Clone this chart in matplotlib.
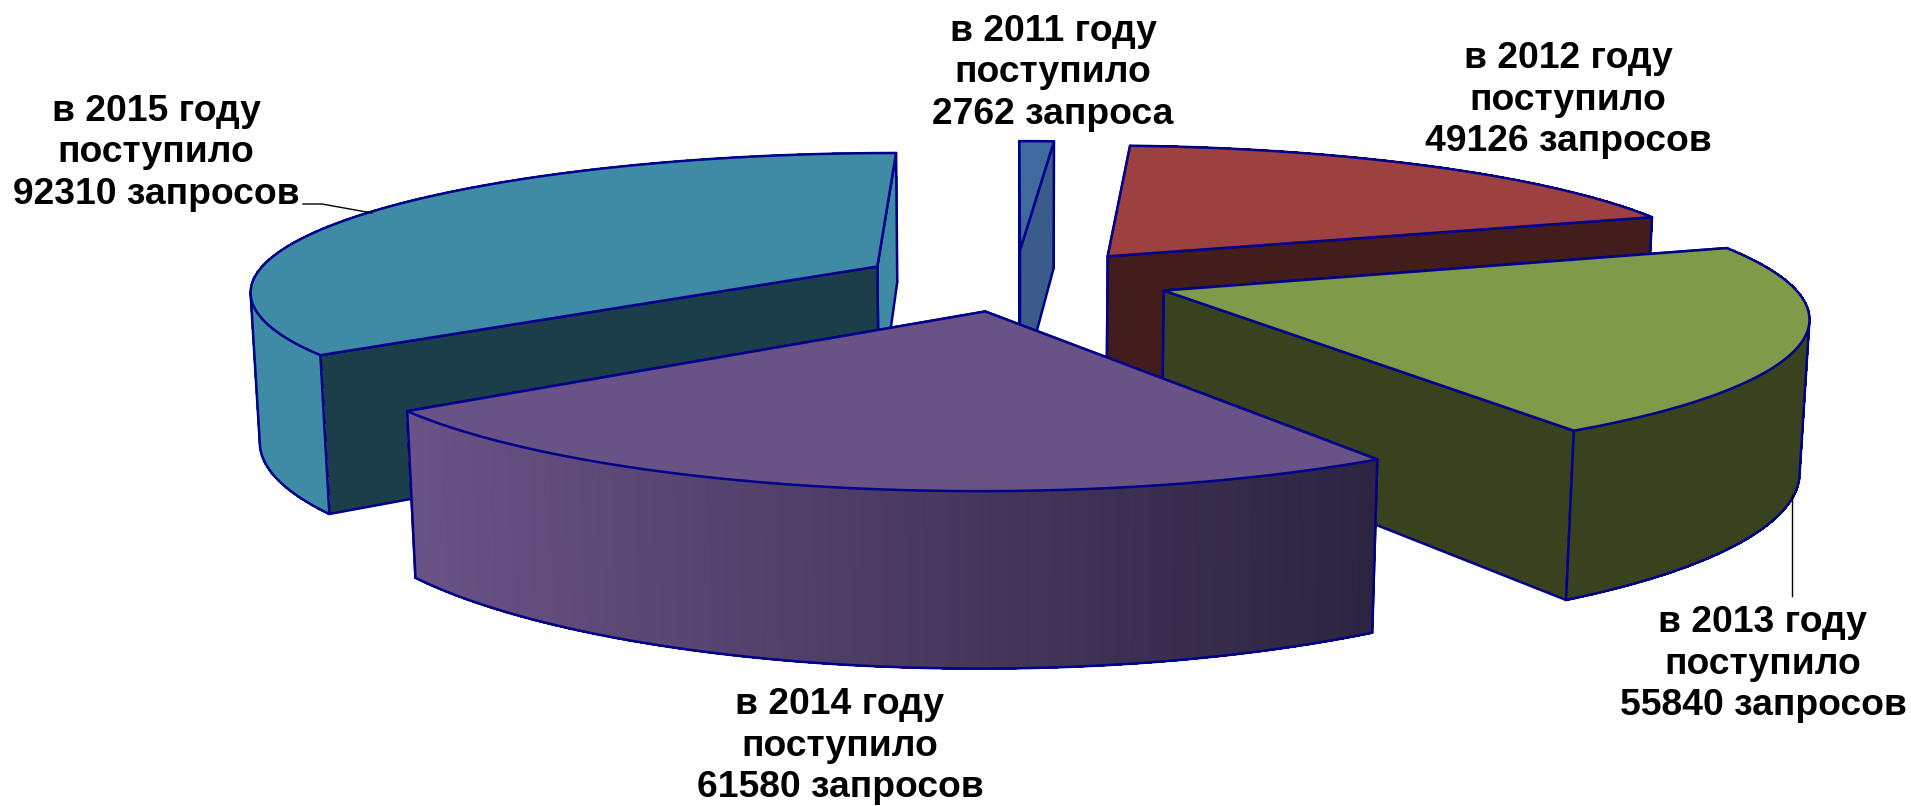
import matplotlib
matplotlib.use("Agg")
import matplotlib.pyplot as plt
from matplotlib.colors import to_rgb
from matplotlib.patches import Polygon
import numpy as np

YEARS = [2011, 2012, 2013, 2014, 2015]
VALUES = [2762, 49126, 55840, 61580, 92310]
WORDS = ["запроса", "запросов", "запросов", "запросов", "запросов"]

TOP_COLORS = ["#40699E", "#9C4040", "#7F9A48", "#695285", "#3F8AA5"]
START_COLORS = ["#40699E", "#431C1C", "#38421E", "#3C2F4C", "#1B3E4A"]
# face that looks towards the viewer's right on the last slice stays light
END_COLORS = ["#3A5C8A", "#431C1C", "#38421E", "#3C2F4C", "#3F8AA5"]
WALL_LEFT = ["#3A5C8A", "#431C1C", "#38421E", "#695285", "#3F8AA5"]
WALL_RIGHT = ["#3A5C8A", "#431C1C", "#38421E", "#2C2440", "#3F8AA5"]
EDGE = "#00008B"

LABEL_POS = [(1053, 73), (1568, 100), (1763, 664), (840, 746), (156, 153)]

# camera of the fake 3d pie, in pixels of the picture
CX, CY = 1015, 280
SCALE_X, SCALE_Y = 625, 137
HEIGHT = 148
PERSP_X, PERSP, PERSP_H, PERSP_Z = 0.16, 0.17, 0.136, 0.012
EXPLODE_X, EXPLODE_Y = 0.25, 0.225
DRAW_ORDER = [0, 1, 2, 4, 3]


def project(x, y, z):
    sx = CX + SCALE_X * x / (1 + PERSP_X * y + PERSP_Z * z)
    sy = CY - SCALE_Y * y / (1 + PERSP * y) + HEIGHT * z / (1 + PERSP_H * y)
    return np.column_stack([sx, sy])


def face(ax, pts, color):
    ax.add_patch(Polygon(pts, closed=True, facecolor=color, edgecolor=EDGE,
                         linewidth=1.8, joinstyle="round", zorder=1))


def edge_line(ax, xs, ys):
    # same zorder as the patches, so painting order is the order of the calls
    ax.plot(xs, ys, color=EDGE, lw=1.8, solid_capstyle="round", zorder=1)


def draw_wall(ax, top, bottom, i, xmin, xmax):
    # filled in strips so it can carry a left to right gradient
    if len(top) < 2:
        return
    c0, c1 = np.array(to_rgb(WALL_LEFT[i])), np.array(to_rgb(WALL_RIGHT[i]))
    for k in range(len(top) - 1):
        f = (top[k, 0] - xmin) / max(xmax - xmin, 1)
        col = c0 + (c1 - c0) * np.clip(f, 0, 1)
        ax.add_patch(Polygon([top[k], top[k + 1], bottom[k + 1], bottom[k]], closed=True,
                             facecolor=col, edgecolor=col, linewidth=1.0,
                             antialiased=False, zorder=1))
    edge_line(ax, bottom[:, 0], bottom[:, 1])


def draw_slice(ax, i, a0, a1):
    mid = (a0 + a1) / 2
    ox, oy = EXPLODE_X * np.sin(mid), EXPLODE_Y * np.cos(mid)
    t = np.linspace(a0, a1, 300)
    x, y = ox + np.sin(t), oy + np.cos(t)
    top = project(x, y, 0)
    bottom = project(x, y, 1)
    apex_top = project(np.array([ox]), np.array([oy]), 0)
    apex_bot = project(np.array([ox]), np.array([oy]), 1)
    xmin, xmax = bottom[:, 0].min(), bottom[:, 0].max()

    # the wall turns away from the viewer where the arc is widest on screen
    side = np.argmax(np.abs(top[:, 0] - CX))
    has_side = 0 < side < len(t) - 1
    front = np.cos(t) <= (np.cos(t[side]) if has_side else 0.1)

    draw_wall(ax, top[~front], bottom[~front], i, xmin, xmax)

    # radial faces, the farther one goes first
    start = (np.vstack([apex_top, top[0], bottom[0], apex_bot]), START_COLORS[i], np.cos(a0))
    end = (np.vstack([apex_top, top[-1], bottom[-1], apex_bot]), END_COLORS[i], np.cos(a1))
    for pts, color, _ in sorted([start, end], key=lambda f: -f[2]):
        face(ax, pts, color)

    draw_wall(ax, top[front], bottom[front], i, xmin, xmax)

    if has_side:
        edge_line(ax, [top[side, 0], bottom[side, 0]], [top[side, 1], bottom[side, 1]])
    for k in (0, len(t) - 1):
        if front[k]:
            edge_line(ax, [top[k, 0], bottom[k, 0]], [top[k, 1], bottom[k, 1]])

    face(ax, np.vstack([apex_top, top]), TOP_COLORS[i])


def main():
    plt.rcParams["font.family"] = ["Liberation Sans", "DejaVu Sans"]
    fig = plt.figure(figsize=(19.11, 8.06), dpi=100)
    ax = fig.add_axes([0, 0, 1, 1])
    ax.set_xlim(0, 1911)
    ax.set_ylim(806, 0)
    ax.axis("off")

    vals = np.array(VALUES, dtype=float)
    edges = np.concatenate([[0], np.cumsum(vals)]) / vals.sum() * 2 * np.pi
    for i in DRAW_ORDER:
        draw_slice(ax, i, edges[i], edges[i + 1])

    # leader lines
    ax.plot([303, 322, 372], [204, 204, 213], color="black", lw=1.0)
    ax.plot([1792, 1792], [495, 596], color="black", lw=1.0)

    for year, val, word, (lx, ly) in zip(YEARS, VALUES, WORDS, LABEL_POS):
        ax.text(lx, ly, f"в {year} году\nпоступило\n{val} {word}", ha="center", va="center",
                fontsize=26.8, fontweight="bold", linespacing=1.23, color="black")

    fig.savefig("out.png", dpi=100)
    plt.close(fig)


if __name__ == "__main__":
    main()
